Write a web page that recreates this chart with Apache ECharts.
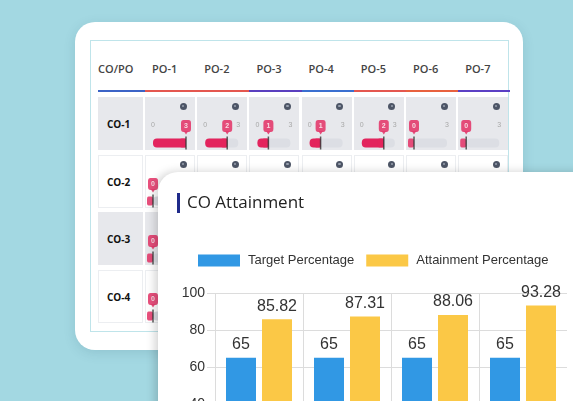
<!DOCTYPE html>
<html><head><meta charset="utf-8">
<script src="https://cdn.jsdelivr.net/npm/echarts@6/dist/echarts.min.js"></script>
<style>
html,body{margin:0;padding:0;width:573px;height:401px;overflow:hidden;background:#a3d8e2;font-family:"Open Sans","Noto Sans",sans-serif;}
#tcard{position:absolute;left:75px;top:22px;width:448px;height:328px;background:#fff;border-radius:20px;box-shadow:0 3px 12px rgba(40,90,110,0.15);}
#tborder{position:absolute;left:90px;top:40px;width:419px;height:292px;border:1px solid #bfe4ea;box-sizing:border-box;}
.hd{position:absolute;font-size:11px;font-weight:600;color:#444;line-height:12px;top:63px;}
.ul{position:absolute;top:90px;height:2px;}
.cell{position:absolute;box-sizing:border-box;}
.rl{position:absolute;font-size:10px;font-weight:700;color:#111;line-height:12px;}
.dot{position:absolute;width:7px;height:7px;border-radius:50%;background:#4d5566;}
.dot:after{content:"";position:absolute;left:2.3px;top:2.3px;width:2.4px;height:2.4px;border-radius:50%;background:#9aa2b0;}
#tbl{position:absolute;left:0;top:0;width:573px;height:401px;}
#ccard{position:absolute;left:158px;top:172px;width:440px;height:360px;background:#fff;border-radius:20px;box-shadow:-3px 0 10px rgba(0,0,0,0.18);}
#chart{position:absolute;left:0;top:0;width:415px;height:350px;}
</style>
</head><body>
<div id="tcard"></div>
<div id="tborder"></div>
<div id="tlayer"></div>
<div id="tbl"></div>
<div id="ccard"><div id="chart"></div></div>
<script>
// ---- data ----
const categories = ['CO-1', 'CO-2', 'CO-3', 'CO-4'];
const targetPct = [65, 65, 65, 65];
const attainPct = [85.82, 87.31, 88.06, 93.28];
const seriesNames = ['Target Percentage', 'Attainment Percentage'];
const chartTitle = 'CO Attainment';
const yMin = 0, yMax = 100, yStep = 20;

const tableCols = ['CO/PO', 'PO-1', 'PO-2', 'PO-3', 'PO-4', 'PO-5', 'PO-6', 'PO-7'];
const tableRows = ['CO-1', 'CO-2', 'CO-3', 'CO-4'];
const mapLevel = [
  [3, 2, 1, 1, 2, 0, 0],
  [0, null, null, null, null, null, null],
  [0, null, null, null, null, null, null],
  [0, null, null, null, null, null, null]
];
const mapMax = 3;

// ---- styles / layout ----
const ulColors = ['#3b63c6', '#e4574f', '#e4574f', '#5a3fbf', '#3a6fd0', '#e4574f', '#e8613e', '#5b3fc4'];
const colLeft0 = 145, colW = 52.2, cellW = 50;
const rowTops = [97, 155, 212, 270], rowH = 53;
const pink = '#e3245d';
const gridGray = '#dcdcdc';

// ---- table (HTML shell) ----
const tl = document.getElementById('tlayer');
function add(cls, css, txt) {
  const d = document.createElement('div');
  d.className = cls; d.style.cssText = css;
  if (txt !== undefined) d.textContent = txt;
  tl.appendChild(d);
  return d;
}
tableCols.forEach((h, i) => {
  const left = i === 0 ? 98 : colLeft0 + (i - 1) * colW;
  const w = i === 0 ? 47 : colW;
  add('hd', 'left:' + (i === 0 ? 98 : left + 7) + 'px;', h);
  add('ul', 'left:' + left + 'px;width:' + w + 'px;background:' + ulColors[i] + ';');
});
tableRows.forEach((r, ri) => {
  const top = rowTops[ri];
  const gray = ri % 2 === 0;
  const bg = gray ? 'background:#e7e8ec;' : 'background:#fff;border:1px solid #eceef1;';
  add('cell', 'left:98px;top:' + top + 'px;width:45px;height:' + rowH + 'px;' + bg);
  add('rl', 'left:107px;top:' + (top + rowH / 2 - 6) + 'px;', r);
  for (let c = 0; c < 7; c++) {
    const left = colLeft0 + c * colW;
    add('cell', 'left:' + left + 'px;top:' + top + 'px;width:' + cellW + 'px;height:' + rowH + 'px;' + bg);
    add('dot', 'left:' + (left + 34.5) + 'px;top:' + (top + 5.5) + 'px;');
  }
});

// ---- table mini bars (ECharts) ----
const grids = [], xAxes = [], yAxes = [], tSeries = [];
let k = 0;
mapLevel.forEach((row, ri) => {
  row.forEach((val, c) => {
    if (val === null) return;
    const left = colLeft0 + c * colW + 8;
    grids.push({left: left, top: rowTops[ri] + 41.5, width: 33, height: 9});
    xAxes.push({gridIndex: k, type: 'value', min: 0, max: mapMax, interval: mapMax, position: 'top',
      axisLine: {show: false}, axisTick: {show: false}, splitLine: {show: false},
      axisLabel: {fontSize: 7, color: '#a8a8a8', margin: 10}});
    yAxes.push({gridIndex: k, type: 'category', data: ['v'], show: false});
    tSeries.push({type: 'bar', xAxisIndex: k, yAxisIndex: k, data: [val], barWidth: 9, silent: true,
      showBackground: true, backgroundStyle: {color: '#dcdee4', borderRadius: 4},
      itemStyle: {color: pink, borderRadius: [4, 0, 0, 4]}});
    tSeries.push({type: 'scatter', xAxisIndex: k, yAxisIndex: k, data: [[val, 'v']], symbol: 'roundRect',
      symbolSize: [6, 9], symbolOffset: [-3, 0], itemStyle: {color: pink}, z: 4});
    tSeries.push({type: 'scatter', xAxisIndex: k, yAxisIndex: k, data: [[val, 'v']], symbol: 'rect',
      symbolSize: [1.5, 13], itemStyle: {color: '#333'}, z: 5});
    tSeries.push({type: 'scatter', xAxisIndex: k, yAxisIndex: k, data: [[val, 'v']], symbol: 'triangle',
      symbolRotate: 180, symbolSize: [4, 3], symbolOffset: [0, -10], itemStyle: {color: pink}, z: 6});
    tSeries.push({type: 'scatter', xAxisIndex: k, yAxisIndex: k, data: [[val, 'v']], symbol: 'roundRect',
      symbolSize: [10, 12], symbolOffset: [0, -17], itemStyle: {color: pink}, z: 7,
      label: {show: true, position: 'inside', formatter: String(val), color: '#fff', fontSize: 7, fontWeight: 'bold'}});
    k++;
  });
});
const tbl = echarts.init(document.getElementById('tbl'), null, {renderer: 'canvas'});
tbl.setOption({animation: false, grid: grids, xAxis: xAxes, yAxis: yAxes, series: tSeries});

// ---- main chart ----
const chart = echarts.init(document.getElementById('chart'), null, {renderer: 'canvas'});
const labelFont = {fontSize: 16, color: '#333', fontFamily: 'Liberation Sans'};
const vLineColors = categories.map(() => gridGray).concat(['rgba(0,0,0,0)']);
chart.setOption({
  animation: false,
  title: {text: chartTitle, left: 29, top: 20, padding: 0,
    textStyle: {fontFamily: 'Open Sans', fontSize: 17, fontWeight: 'normal', color: '#222', lineHeight: 22}},
  graphic: [{type: 'rect', shape: {x: 19, y: 21, width: 3, height: 20}, style: {fill: '#1f2a8a'}}],
  legend: {left: 40, top: 82, padding: 0, itemWidth: 42, itemHeight: 12, itemGap: 12, icon: 'rect',
    data: seriesNames,
    textStyle: {fontSize: 13, color: '#333', fontFamily: 'Liberation Sans', padding: [0, 0, 0, 3]}},
  grid: {left: 57, top: 121, width: 352, height: 185, outerBoundsMode: 'none'},
  xAxis: {type: 'category', data: categories, axisLine: {show: false}, axisTick: {show: false},
    splitLine: {show: true, lineStyle: {color: vLineColors}}, axisLabel: {fontSize: 14, color: '#333'}},
  yAxis: {type: 'value', min: yMin, max: yMax, interval: yStep,
    axisLabel: {fontSize: 14, color: '#333', margin: 10, fontFamily: 'Liberation Sans'},
    axisTick: {show: true, length: 8, lineStyle: {color: gridGray}},
    splitLine: {lineStyle: {color: gridGray}}, axisLine: {show: false}},
  series: [
    {name: seriesNames[0], type: 'bar', data: targetPct, barWidth: 30, barGap: '20%',
      itemStyle: {color: '#3198e4'}, label: Object.assign({show: true, position: 'top'}, labelFont)},
    {name: seriesNames[1], type: 'bar', data: attainPct, barWidth: 30,
      itemStyle: {color: '#fbc846'}, label: Object.assign({show: true, position: 'top'}, labelFont)}
  ]
});
</script>
</body></html>
